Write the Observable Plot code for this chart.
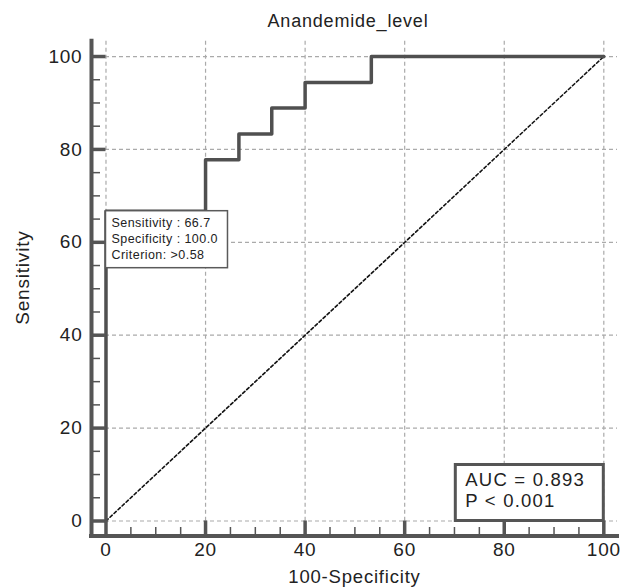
<!DOCTYPE html>
<html><head><meta charset="utf-8">
<script src="https://cdn.jsdelivr.net/npm/d3@7"></script>
<script src="https://cdn.jsdelivr.net/npm/@observablehq/plot@0.6"></script>
<style>
body{margin:0;background:#fff;overflow:hidden;font-family:"Liberation Sans",Arial,sans-serif;}
#wrap{position:relative;width:621px;height:587px;}
#title{position:absolute;top:12px;left:198px;width:300px;text-align:center;font-size:18px;line-height:18px;color:#222;letter-spacing:0.8px;}
#chart{position:absolute;top:38px;left:0;}
</style></head><body>
<div id="wrap"><div id="title"></div><div id="chart"></div></div>
<script>
const chartTitle = "Anandemide_level";
const xLabel = "100-Specificity";
const yLabel = "Sensitivity";
// ROC curve points (100-Specificity, Sensitivity), drawn as steps
const fpr  = [0, 0, 20, 26.7, 33.3, 40, 53.3, 100];
const sens = [0, 66.7, 77.8, 83.3, 88.9, 94.4, 100, 100];
// reference diagonal
const refX = [0, 100];
const refY = [0, 100];
const majorTicks = [0, 20, 40, 60, 80, 100];
const minorTicks = [5, 10, 15, 25, 30, 35, 45, 50, 55, 65, 70, 75, 85, 90, 95];
const critLabels = ["Sensitivity", "Specificity", "Criterion"];
const critValues = ["66.7", "100.0", ">0.58"];
const critPoint = {x: 0, y: 66.7};
const aucLines = ["AUC = 0.893", "P < 0.001"];
const aucAnchor = {x: 100, y: 0};

document.getElementById("title").textContent = chartTitle;

const xDomain = [-2.91, 102.75];
const yDomain = [-3.23, 103.3];
const axisColor = "#555";
const font = "'Liberation Sans', Arial, sans-serif";

const roc = fpr.map((x, i) => ({x, y: sens[i]}));
const diag = refX.map((x, i) => ({x, y: refY[i]}));

const plot = Plot.plot({
  width: 621,
  height: 549,
  marginLeft: 91,
  marginRight: 4,
  marginTop: 2.7,
  marginBottom: 51.5,
  style: {fontFamily: font, background: "#fff", color: "#222"},
  x: {domain: xDomain, axis: null},
  y: {domain: yDomain, axis: null},
  marks: [
    Plot.ruleX(majorTicks, {x: d => d, stroke: "#aaa", strokeWidth: 1.2, strokeDasharray: "4,3"}),
    Plot.ruleY(majorTicks, {y: d => d, stroke: "#aaa", strokeWidth: 1.2, strokeDasharray: "4,3"}),
    Plot.line(diag, {x: "x", y: "y", stroke: "#111", strokeWidth: 1.6, strokeDasharray: "3,2.5"}),
    Plot.line(roc, {x: "x", y: "y", curve: "step-after", stroke: "#505050", strokeWidth: 3.5}),
    // axis lines
    Plot.ruleX([xDomain[0]], {x: d => d, stroke: axisColor, strokeWidth: 4, strokeLinecap: "square"}),
    Plot.ruleY([yDomain[0]], {y: d => d, stroke: axisColor, strokeWidth: 4, strokeLinecap: "square"}),
    // ticks (inward)
    Plot.ruleY(majorTicks, {y: d => d, x1: xDomain[0], x2: 0, stroke: axisColor, strokeWidth: 3.5}),
    Plot.ruleY(minorTicks, {y: d => d, x1: xDomain[0], x2: -1.1, stroke: axisColor, strokeWidth: 1.5}),
    Plot.ruleX(majorTicks, {x: d => d, y1: yDomain[0], y2: 0, stroke: axisColor, strokeWidth: 3.5}),
    Plot.ruleX(minorTicks, {x: d => d, y1: yDomain[0], y2: -1.4, stroke: axisColor, strokeWidth: 1.5}),
    // tick labels
    Plot.text(majorTicks, {y: d => d, text: d => String(d), frameAnchor: "left", textAnchor: "end", dx: -9, fontSize: 19, fill: "#222", style: "letter-spacing:0.8px"}),
    Plot.text(majorTicks, {x: d => d, text: d => String(d), frameAnchor: "bottom", textAnchor: "middle", lineAnchor: "top", dy: 6.5, fontSize: 19, fill: "#222"}),
    // axis titles
    Plot.text([xLabel], {text: d => d, frameAnchor: "bottom", textAnchor: "middle", lineAnchor: "middle", dy: 41.5, fontSize: 18.5, fill: "#222"}),
    Plot.text([yLabel], {text: d => d, frameAnchor: "left", textAnchor: "middle", rotate: -90, dx: -69, dy: -11, fontSize: 19, fill: "#222"})
  ]
});

const sx = plot.scale("x"), sy = plot.scale("y");
const svg = d3.select(plot);
// slightly wider lettering, as in the reference
svg.selectAll("text").style("letter-spacing", "0.8px");

// criterion annotation box, anchored at the criterion point (top-left)
{
  const x0 = sx.apply(critPoint.x), y0 = sy.apply(critPoint.y);
  const g = svg.append("g").attr("font-family", font).attr("text-anchor", "start");
  g.append("rect").attr("x", x0).attr("y", y0).attr("width", 122).attr("height", 57)
    .attr("fill", "#fff").attr("stroke", "#5a5a5a").attr("stroke-width", 1.5);
  critLabels.forEach((lab, i) => {
    const sep = i < 2 ? " : " : ": ";
    g.append("text").attr("x", x0 + 6).attr("y", y0 + 16.5 + i * 16)
      .attr("font-size", 12.5).attr("fill", "#222").style("letter-spacing", "0.45px")
      .text(lab + sep + critValues[i]);
  });
}
// AUC box, anchored at the bottom-right (100, 0)
{
  const x1 = sx.apply(aucAnchor.x), y1 = sy.apply(aucAnchor.y);
  const w = 148, h = 56;
  const g = svg.append("g").attr("font-family", font).attr("text-anchor", "start");
  g.append("rect").attr("x", x1 - w).attr("y", y1 - h).attr("width", w).attr("height", h)
    .attr("fill", "#fff").attr("stroke", "#555").attr("stroke-width", 3);
  aucLines.forEach((t, i) => {
    g.append("text").attr("x", x1 - w + 10).attr("y", y1 - h + 22 + i * 21)
      .attr("font-size", 18.5).attr("fill", "#222").style("letter-spacing", "1.2px").text(t);
  });
}

document.getElementById("chart").appendChild(plot);
</script>
</body></html>
